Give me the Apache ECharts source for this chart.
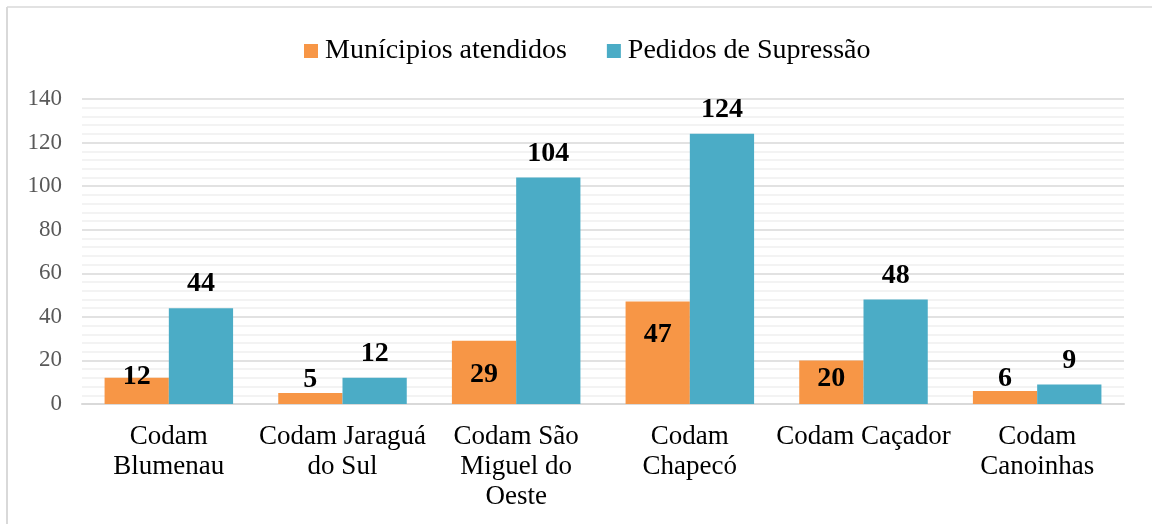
<!DOCTYPE html>
<html>
<head>
<meta charset="utf-8">
<script src="https://cdn.jsdelivr.net/npm/echarts@6/dist/echarts.min.js"></script>
<style>
  html, body { margin: 0; padding: 0; background: #fff; }
  #chart { width: 1152px; height: 524px; }
</style>
</head>
<body>
<div id="chart"></div>
<script>
const categories = [
  'Codam\nBlumenau',
  'Codam Jaraguá\ndo Sul',
  'Codam São\nMiguel do\nOeste',
  'Codam\nChapecó',
  'Codam Caçador',
  'Codam\nCanoinhas'
];
const municipios = [12, 5, 29, 47, 20, 6];
const pedidos = [44, 12, 104, 124, 48, 9];

// Excel-style label placement for the orange series (inside end, pushed out on short bars)
const orangeLabelPos = [
  { position: 'top', distance: -13 },
  { position: 'top', distance: -1 },
  { position: 'insideTop', distance: 20 },
  { position: 'insideTop', distance: 19 },
  { position: 'insideTop', distance: 4 },
  { position: 'top', distance: -2 }
];

const serif = '"Liberation Serif", "Times New Roman", serif';
const chart = echarts.init(document.getElementById('chart'));

chart.setOption({
  animation: false,
  textStyle: { fontFamily: serif },
  graphic: [
    { type: 'line', shape: { x1: 7, y1: 7, x2: 1152, y2: 7 }, style: { stroke: '#d9d9d9', lineWidth: 1.5 } },
    { type: 'line', shape: { x1: 7, y1: 7, x2: 7, y2: 524 }, style: { stroke: '#d9d9d9', lineWidth: 2 } }
  ],
  legend: {
    top: 32,
    left: 299,
    itemWidth: 14,
    itemHeight: 14,
    itemGap: 40,
    icon: 'rect',
    textStyle: { fontFamily: serif, fontSize: 28, color: '#000', padding: [0, 0, 0, 2] },
    data: ['Munícipios atendidos', 'Pedidos de Supressão']
  },
  grid: { left: 82, right: 28, top: 99, bottom: 120, containLabel: false },
  xAxis: {
    type: 'category',
    data: categories,
    axisTick: { show: false },
    axisLine: { lineStyle: { color: '#d9d9d9', width: 2 } },
    axisLabel: {
      interval: 0,
      margin: 18,
      fontFamily: serif,
      fontSize: 27,
      lineHeight: 30,
      color: '#000'
    }
  },
  yAxis: {
    type: 'value',
    min: 0,
    max: 140,
    interval: 20,
    axisLine: { show: false },
    axisTick: { show: false },
    axisLabel: { fontFamily: serif, fontSize: 23, color: '#595959', margin: 20 },
    splitLine: { lineStyle: { color: '#d9d9d9', width: 1.5 } },
    minorTick: { show: false, splitNumber: 5 },
    minorSplitLine: { show: true, lineStyle: { color: '#f0f0f0', width: 1.5 } }
  },
  series: [
    {
      name: 'Munícipios atendidos',
      type: 'bar',
      barGap: '0%',
      barCategoryGap: '26%',
      itemStyle: { color: '#F79646' },
      data: municipios.map((v, i) => ({
        value: v,
        label: orangeLabelPos[i]
      })),
      label: {
        show: true,
        fontFamily: serif,
        fontSize: 28,
        fontWeight: 'bold',
        color: '#000'
      }
    },
    {
      name: 'Pedidos de Supressão',
      type: 'bar',
      barGap: '0%',
      barCategoryGap: '26%',
      itemStyle: { color: '#4BACC6' },
      data: pedidos,
      label: {
        show: true,
        position: 'top',
        distance: 10,
        fontFamily: serif,
        fontSize: 28,
        fontWeight: 'bold',
        color: '#000'
      }
    }
  ]
});
</script>
</body>
</html>
